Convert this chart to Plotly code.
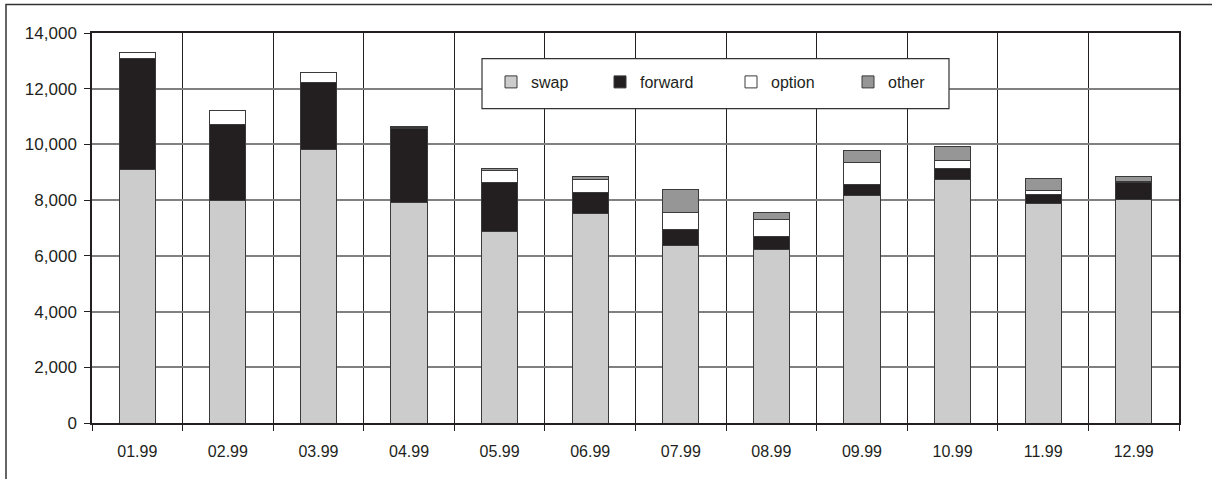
import plotly.graph_objects as go

months = ["01.99", "02.99", "03.99", "04.99", "05.99", "06.99",
          "07.99", "08.99", "09.99", "10.99", "11.99", "12.99"]
swap = [9100, 7970, 9820, 7900, 6890, 7530, 6370, 6230, 8160, 8750, 7885, 8030]
forward = [3980, 2740, 2410, 2680, 1750, 740, 560, 455, 410, 380, 335, 600]
option = [215, 515, 360, 10, 440, 456, 620, 635, 775, 290, 110, 40]
other = [0, 0, 0, 50, 60, 108, 850, 225, 420, 490, 455, 175]
series_names = ["swap", "forward", "option", "other"]
series_colors = ["#cccccc", "#231f20", "#ffffff", "#969696"]
y_ticks = [0, 2000, 4000, 6000, 8000, 10000, 12000, 14000]
y_labels = ["0", "2,000", "4,000", "6,000", "8,000", "10,000", "12,000", "14,000"]

W, H = 1212, 479
L, R, T, B = 92, 1179, 33, 423
pw, ph = R - L, B - T

def px(x):
    return (x - L) / pw

def py(y):
    return (B - y) / ph

# legend text start positions in the reference (pixels)
legend_text_x = [527, 636, 767, 884]
legend_ids = ["legend", "legend2", "legend3", "legend4"]

font_family = "Liberation Sans, Arial, sans-serif"
fig = go.Figure()
for name, vals, col, lid in zip(series_names, [swap, forward, option, other], series_colors, legend_ids):
    fig.add_trace(go.Bar(
        x=months, y=vals, name=name, legend=lid,
        marker=dict(color=col, line=dict(color="#3a3a3a", width=1)),
    ))

legend_layouts = {}
for lid, tx in zip(legend_ids, legend_text_x):
    legend_layouts[lid] = dict(
        x=px(tx - 36), y=py(82), xanchor="left", yanchor="middle",
        bgcolor="rgba(0,0,0,0)", borderwidth=0,
        font=dict(family=font_family, size=16, color="#231f20"),
        itemclick=False, itemdoubleclick=False,
    )

fig.update_layout(
    width=W, height=H,
    margin=dict(l=L, r=W - R, t=T, b=H - B),
    barmode="stack", bargap=0.6,
    paper_bgcolor="white", plot_bgcolor="white",
    font=dict(family=font_family, size=16, color="#231f20"),
    showlegend=True,
    xaxis=dict(
        type="category", tickson="boundaries",
        showgrid=True, gridcolor="#231f20", gridwidth=1,
        showline=True, linecolor="#231f20", linewidth=1.5, mirror=True,
        ticks="outside", ticklen=6, tickcolor="#231f20",
        tickfont=dict(size=16), ticklabelstandoff=13,
    ),
    yaxis=dict(
        range=[0, 14000], tickvals=y_ticks, ticktext=y_labels,
        showgrid=True, gridcolor="#808080", gridwidth=1.5,
        showline=True, linecolor="#231f20", linewidth=1.5, mirror=True,
        ticks="outside", ticklen=6, tickcolor="#231f20",
        tickfont=dict(size=17), zeroline=False, ticklabelstandoff=4,
    ),
    shapes=[
        dict(type="rect", xref="paper", yref="paper",
             x0=px(6), x1=px(1216), y0=py(484), y1=py(4.5),
             line=dict(color="#333333", width=1.5), fillcolor="rgba(0,0,0,0)",
             layer="above"),
        dict(type="rect", xref="paper", yref="paper",
             x0=px(482), x1=px(949), y0=py(108.7), y1=py(58.7),
             line=dict(color="#333333", width=1.2), fillcolor="white",
             layer="above"),
    ],
    **legend_layouts,
)

fig.write_html("out.html", config={"displayModeBar": False},
               post_script="document.body.style.margin='0';")
